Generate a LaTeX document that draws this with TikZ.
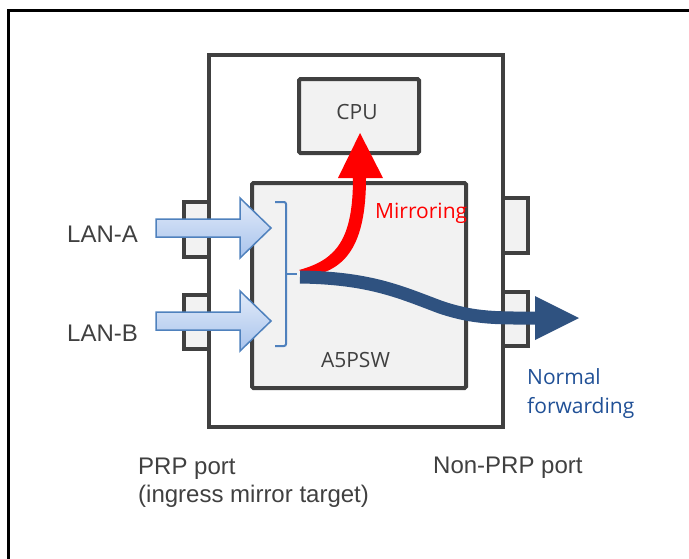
\documentclass[tikz,border=0pt]{standalone}
\usepackage{fontspec}
\setmainfont{Liberation Sans}
\newfontfamily\segoe{Open Sans}
\definecolor{boxgray}{HTML}{404040}
\definecolor{boxfill}{HTML}{F2F2F2}
\definecolor{navy}{RGB}{47,82,128}
\definecolor{fwdtext}{RGB}{32,80,150}
\definecolor{lanedge}{RGB}{79,129,189}
\definecolor{lantop}{RGB}{226,235,249}
\definecolor{lanbot}{RGB}{168,195,236}
\definecolor{brk}{RGB}{79,129,189}
\tikzset{
  box/.style={draw=boxgray, fill=boxfill, line width=4pt, rounded corners=1.5pt, inner sep=0pt, anchor=north west},
  port/.style={draw=boxgray, fill=boxfill, line width=3.5pt, inner sep=0pt, anchor=north west},
  arial/.style={font=\fontsize{24}{28}\selectfont, text=boxgray, inner sep=0pt},
  seg/.style={font=\segoe\fontsize{21}{25}\selectfont, inner sep=0pt},
  lanarrow/.style={draw=lanedge, line width=1.5pt, top color=lantop, bottom color=lanbot},
}
\begin{document}
\begin{tikzpicture}[x=1pt,y=-1pt]
\useasboundingbox (0,0) rectangle (689,558);
% outer frame (left and top edges)
\draw[line width=2.7pt] (8.7,570) -- (8.7,10.7) -- (700,10.7);
% ports
\node[port, minimum width=25pt, minimum height=55pt] (portla) at (182,200) {};
\node[port, minimum width=25pt, minimum height=54pt] (portlb) at (182,293) {};
\node[port, minimum width=25pt, minimum height=55pt] (portra) at (501,196) {};
\node[port, minimum width=25pt, minimum height=54pt] (portrb) at (501,290) {};
% device
\node[box, fill=none, rounded corners=0pt, minimum width=294pt, minimum height=372pt] (device) at (207,53) {};
% CPU and switch
\node[box, minimum width=120pt, minimum height=74pt] (cpu) at (297,77) {};
\node[box, minimum width=214pt, minimum height=205pt] (sw) at (250,181) {};
% LAN arrows
\shadedraw[lanarrow] (156,219) -- (240,219) -- (240,198) -- (271,228) -- (240,258) -- (240,237) -- (156,237) -- cycle;
\shadedraw[lanarrow] (156,312) -- (240,312) -- (240,291) -- (271,321) -- (240,351) -- (240,330) -- (156,330) -- cycle;
% bracket
\coordinate (btop) at (286,202);
\coordinate (bbot) at (286,346);
\coordinate (bmid) at (286,274);
\coordinate (bout) at (297,274);
\draw[brk, line width=2pt, rounded corners=2pt] (275,202) -- (btop) -- (bbot) -- (275,346);
\draw[brk, line width=2pt] (bmid) -- (bout);
% mirroring (red)
\fill[red] (299,270) .. controls (336,260) and (353,240) .. (353,178) -- (338,178) -- (360,133) -- (383,178) -- (366,178) .. controls (366,246) and (345,270) .. (310,276) -- cycle;
% normal forwarding (blue)
\coordinate (fwdstart) at (300,277);
\coordinate (fwdbase) at (536,318);
\draw[navy, line width=13pt] (fwdstart) .. controls (370,278) and (400,292) .. (440,307) .. controls (475,319) and (500,318) .. (fwdbase);
\fill[navy] (535,296) -- (579,318) -- (535,340) -- cycle;
% texts
\node[arial, anchor=base west] (lana) at (67,242) {LAN-A};
\node[arial, anchor=base west] (lanb) at (67,341) {LAN-B};
\node[seg, text=boxgray, anchor=base] (cputxt) at (357,119) {CPU};
\node[seg, text=boxgray, anchor=base] (swtxt) at (355.5,367) {A5PSW};
\node[seg, text=red, anchor=base west] (mirtxt) at (375,218) {Mirroring};
\node[seg, text=fwdtext, anchor=base west] (fwd1) at (527,384) {Normal};
\node[seg, text=fwdtext, anchor=base west] (fwd2) at (527,413) {forwarding};
\node[arial, anchor=base west] (prp1) at (138,474) {PRP port};
\node[arial, anchor=base west] (prp2) at (138,502) {(ingress mirror target)};
\node[arial, anchor=base west] (nonprp) at (433,473) {Non-PRP port};
\end{tikzpicture}
\end{document}
